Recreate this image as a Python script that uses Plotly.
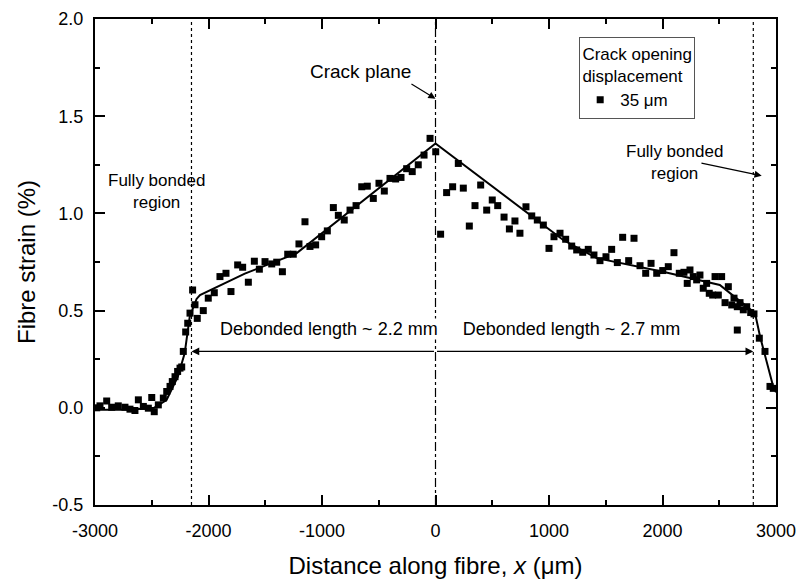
import plotly.graph_objects as go

# ---- data ----
strain_x = [-2985, -2956, -2897, -2853, -2795, -2736, -2692, -2648, -2618, -2574, -2530, -2500,
            -2478, -2442, -2398, -2368, -2339, -2319, -2295, -2272, -2251, -2236, -2222, -2201,
            -2183, -2163, -2140, -2119, -2099, -2046, -2002, -1949, -1899, -1846, -1802, -1743,
            -1699, -1649, -1596, -1552, -1502, -1443, -1399, -1349, -1302, -1253, -1203, -1150,
            -1106, -1056, -1003, -953, -900, -856, -804, -753, -700, -650, -601, -548, -498,
            -451, -401, -351, -304, -254, -205, -152, -101, -48, 2,
            45, 98, 151, 201, 245, 298, 348, 398, 451, 500, 548, 604, 651, 700, 744, 797, 848,
            897, 950, 1000, 1044, 1097, 1147, 1200, 1244, 1297, 1346, 1396, 1449, 1502, 1552,
            1602, 1649, 1702, 1749, 1802, 1852, 1899, 1949, 2002, 2051, 2101, 2148, 2189, 2218,
            2242, 2271, 2301, 2330, 2359, 2389, 2412, 2442, 2463, 2492, 2521, 2551, 2580, 2610,
            2630, 2659, 2659, 2683, 2712, 2742, 2777, 2806, 2853, 2903, 2947, 2976]
strain_y = [0.0, 0.01, 0.035, 0.003, 0.01, 0.003, -0.007, -0.014, 0.041, 0.007, -0.002, 0.053,
            -0.02, 0.015, 0.05, 0.084, 0.11, 0.135, 0.16, 0.187, 0.204, 0.21, 0.29, 0.39,
            0.435, 0.487, 0.606, 0.53, 0.46, 0.50, 0.564, 0.592, 0.675, 0.692, 0.598, 0.735,
            0.723, 0.646, 0.754, 0.713, 0.752, 0.74, 0.749, 0.70, 0.79, 0.79, 0.843, 0.957,
            0.83, 0.838, 0.88, 0.91, 1.03, 0.99, 0.966, 1.017, 1.04, 1.137, 1.14, 1.077, 1.155,
            1.115, 1.18, 1.177, 1.185, 1.23, 1.215, 1.25, 1.30, 1.386, 1.317,
            0.893, 1.107, 1.137, 1.257, 1.13, 0.935, 1.04, 1.146, 1.017, 1.069, 1.04, 0.981,
            0.92, 0.961, 0.898, 1.034, 0.987, 0.966, 0.94, 0.82, 0.88, 0.898, 0.867, 0.832,
            0.812, 0.80, 0.815, 0.786, 0.757, 0.777, 0.815, 0.747, 0.877, 0.757, 0.872, 0.731,
            0.692, 0.743, 0.692, 0.706, 0.726, 0.798, 0.692, 0.697, 0.64, 0.709, 0.675, 0.658,
            0.683, 0.615, 0.64, 0.589, 0.58, 0.675, 0.58, 0.675, 0.541, 0.623, 0.529, 0.564,
            0.52, 0.40, 0.541, 0.504, 0.52, 0.49, 0.483, 0.358, 0.29, 0.11, 0.10]

fit_x = [-3000, -2700, -2480, -2370, -2270, -2210, -2165, -2105, -2075, -1680, -1355, -1225,
         0, 830, 1125, 1420, 2005, 2505, 2685, 2815, 2860, 2920, 2975, 3000]
fit_y = [-0.01, -0.01, 0.0, 0.04, 0.16, 0.28, 0.47, 0.56, 0.58, 0.69, 0.765, 0.795,
         1.36, 0.99, 0.863, 0.77, 0.70, 0.632, 0.546, 0.487, 0.366, 0.23, 0.11, 0.08]

x_ticks = [-3000, -2000, -1000, 0, 1000, 2000, 3000]
x_labels = ["-3000", "-2000", "-1000", "0", "1000", "2000", "3000"]
y_ticks = [-0.5, 0.0, 0.5, 1.0, 1.5, 2.0]
y_labels = ["-0.5", "0.0", "0.5", "1.0", "1.5", "2.0"]

bonded_left = -2150
bonded_right = 2800
crack_x = 0
arrow_level = 0.29

FONT = "Arial, Liberation Sans, sans-serif"

fig = go.Figure()
fig.add_trace(go.Scatter(x=fit_x, y=fit_y, mode="lines", line=dict(color="black", width=2),
                         showlegend=False, hoverinfo="skip"))
fig.add_trace(go.Scatter(x=strain_x, y=strain_y, mode="markers", name="35 \u03bcm",
                         marker=dict(symbol="square", size=7, color="black")))

# vertical reference lines
for xv, dash in [(bonded_left, "dot"), (bonded_right, "dot"), (crack_x, "dashdot")]:
    fig.add_shape(type="line", xref="x", yref="paper", x0=xv, x1=xv, y0=0, y1=1,
                  line=dict(color="black", width=1.2, dash=dash))

ann = []
# debonded length text (single box hides the crack-plane line)
ann.append(dict(x=128, y=0.405, xref="x", yref="y", showarrow=False,
                text="Debonded length ~ 2.2 mm" + "\u00a0" * 5 + "Debonded length ~ 2.7 mm",
                font=dict(size=18, family=FONT, color="black"), bgcolor="white", borderpad=0))
# debonded arrows
for xv in [bonded_left, bonded_right]:
    ann.append(dict(x=xv, y=arrow_level, ax=crack_x, ay=arrow_level, xref="x", yref="y",
                    axref="x", ayref="y", text="", showarrow=True, arrowhead=2,
                    arrowsize=1.3, arrowwidth=1.2, arrowcolor="black"))
# crack plane
ann.append(dict(x=-661, y=1.73, xref="x", yref="y", showarrow=False, text="Crack plane",
                font=dict(size=19, family=FONT, color="black")))
ann.append(dict(x=crack_x, y=1.59, ax=-225, ay=1.67, xref="x", yref="y", axref="x", ayref="y",
                text="", showarrow=True, arrowhead=2, arrowsize=1.2, arrowwidth=1.2,
                arrowcolor="black"))
# fully bonded region labels
ann.append(dict(x=-2454, y=1.115, xref="x", yref="y", showarrow=False,
                text="Fully bonded<br>region", font=dict(size=17, family=FONT, color="black")))
ann.append(dict(x=2110, y=1.26, xref="x", yref="y", showarrow=False,
                text="Fully bonded<br>region", font=dict(size=17, family=FONT, color="black")))
ann.append(dict(x=2874, y=1.194, ax=2330, ay=1.26, xref="x", yref="y", axref="x", ayref="y",
                text="", showarrow=True, arrowhead=2, arrowsize=1.2, arrowwidth=1.2,
                arrowcolor="black"))

axis_common = dict(showline=True, linewidth=2, linecolor="black", mirror="allticks",
                   ticks="inside", ticklen=10, tickwidth=1.5, tickcolor="black",
                   showgrid=False, zeroline=False, automargin=False,
                   tickfont=dict(size=18, family=FONT, color="black"))

fig.update_layout(
    width=800, height=584,
    margin=dict(l=95, r=24, t=19, b=79),
    plot_bgcolor="white", paper_bgcolor="white",
    font=dict(family=FONT, color="black"),
    xaxis=dict(range=[-3000, 3000], tickvals=x_ticks, ticktext=x_labels, ticklabelstandoff=8,
               minor=dict(ticks="inside", ticklen=5, dtick=500, tickwidth=1.5, tickcolor="black"),
               title=dict(text="Distance along fibre, <i>x</i> (\u03bcm)",
                          font=dict(size=24, family=FONT), standoff=18),
               **axis_common),
    yaxis=dict(range=[-0.5, 2.0], tickvals=y_ticks, ticktext=y_labels, ticklabelstandoff=6,
               minor=dict(ticks="inside", ticklen=5, dtick=0.25, tickwidth=1.5, tickcolor="black"),
               title=dict(text="Fibre strain (%)", font=dict(size=24, family=FONT), standoff=10),
               **axis_common),
    showlegend=True,
    legend=dict(x=0.711, y=0.963, xanchor="left", yanchor="top",
                bordercolor="#555", borderwidth=1, bgcolor="white",
                font=dict(size=17, family=FONT, color="black"),
                title=dict(text="Crack opening<br>displacement", side="top center",
                           font=dict(size=17, family=FONT, color="black"))),
    annotations=ann,
)

fig.write_html("out.html", config={"displayModeBar": False},
               post_script="document.body.style.margin='0px';document.body.style.overflow='hidden';")
